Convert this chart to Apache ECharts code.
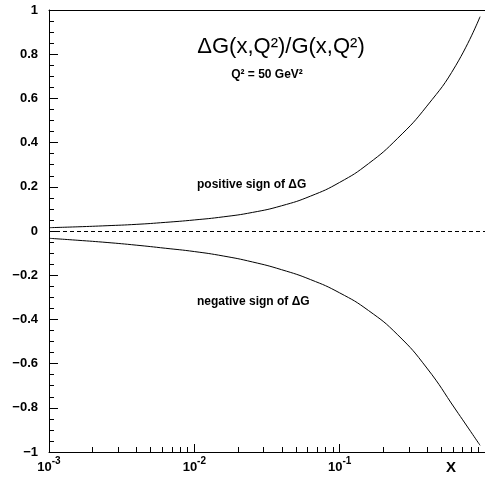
<!DOCTYPE html>
<html><head><meta charset="utf-8">
<script src="https://cdn.jsdelivr.net/npm/echarts@6/dist/echarts.min.js"></script>
<style>html,body{margin:0;padding:0;background:#fff}#c{width:485px;height:479px}</style>
</head><body><div id="c"></div>
<script>
// ---- data ----
const xValues = [0.001, 0.00158, 0.00251, 0.00398, 0.00631, 0.01, 0.0158, 0.0251, 0.0398, 0.0631, 0.1, 0.158, 0.251, 0.398, 0.631, 0.925];
const positiveRatio = [0.015, 0.019, 0.024, 0.030, 0.039, 0.050, 0.064, 0.084, 0.114, 0.158, 0.22, 0.305, 0.42, 0.565, 0.75, 0.97];
const negativeRatio = [-0.033, -0.042, -0.052, -0.064, -0.078, -0.093, -0.113, -0.14, -0.175, -0.22, -0.28, -0.36, -0.47, -0.62, -0.81, -0.97];
const xTickExponents = ['-3', '-2', '-1'];
const yTickLabels = ['−1', '−0.8', '−0.6', '−0.4', '−0.2', '0', '0.2', '0.4', '0.6', '0.8', '1'];
const minorMultipliers = [2, 3, 4, 5, 6, 7, 8, 9];
const minorDecades = [-3, -2, -1];

const FONT = '"Liberation Sans", Arial, sans-serif';
const pts = (ys) => xValues.map((x, i) => [x, ys[i]]);
const minorTickPos = [];
minorDecades.forEach(d => minorMultipliers.forEach(m => minorTickPos.push(d + Math.log10(m))));

const chart = echarts.init(document.getElementById('c'), null, {renderer: 'canvas'});
chart.setOption({
  animation: false,
  backgroundColor: '#fff',
  grid: {left: 49, right: -5, top: 10, bottom: 27},
  xAxis: [
    {
      type: 'log', logBase: 10, min: 0.001, max: 1, position: 'bottom',
      axisLine: {show: true, onZero: false, lineStyle: {color: '#000', width: 1}},
      axisTick: {show: true, inside: true, length: 8, lineStyle: {color: '#000', width: 1}},
      splitLine: {show: false},
      axisLabel: {
        show: true, margin: 4, showMaxLabel: false,
        formatter: function (v) {
          const e = Math.round(Math.log10(v));
          const idx = e + 3;
          if (idx < 0 || idx >= xTickExponents.length) return '';
          return '{b|10}{s|' + xTickExponents[idx] + '}';
        },
        rich: {
          b: {fontFamily: FONT, fontWeight: 'bold', fontSize: 13, color: '#000', verticalAlign: 'bottom', lineHeight: 18},
          s: {fontFamily: FONT, fontWeight: 'bold', fontSize: 10, color: '#000', verticalAlign: 'top', lineHeight: 18}
        }
      }
    },
    {
      type: 'log', logBase: 10, min: 0.001, max: 1, position: 'top',
      axisLine: {show: true, onZero: false, lineStyle: {color: '#000', width: 1}},
      axisTick: {show: false}, axisLabel: {show: false}, splitLine: {show: false}
    },
    {
      type: 'value', min: -3, max: 0, position: 'bottom',
      axisLine: {show: false, onZero: false}, axisLabel: {show: false}, splitLine: {show: false},
      axisTick: {show: true, inside: true, length: 5, customValues: minorTickPos, lineStyle: {color: '#000', width: 1}}
    }
  ],
  yAxis: [{
    type: 'value', min: -1, max: 1, interval: 0.2, position: 'left',
    axisLine: {show: true, onZero: false, lineStyle: {color: '#000', width: 1}},
    axisTick: {show: true, inside: true, length: 9, lineStyle: {color: '#000', width: 1}},
    minorTick: {show: true, splitNumber: 4, length: 5, lineStyle: {color: '#000', width: 1}},
    splitLine: {show: false},
    axisLabel: {
      margin: 11, fontFamily: FONT, fontWeight: 'bold', fontSize: 13, color: '#000',
      formatter: function (v) { return yTickLabels[Math.round((v + 1) / 0.2)]; }
    }
  }],
  series: [
    {
      type: 'line', xAxisIndex: 0, yAxisIndex: 0, data: pts(positiveRatio),
      smooth: 0.5, showSymbol: false, lineStyle: {color: '#000', width: 1},
      markLine: {
        silent: true, symbol: 'none', label: {show: false},
        lineStyle: {color: '#000', width: 1, type: [4, 3]},
        data: [{yAxis: 0}]
      }
    },
    {
      type: 'line', xAxisIndex: 0, yAxisIndex: 0, data: pts(negativeRatio),
      smooth: 0.5, showSymbol: false, lineStyle: {color: '#000', width: 1}
    }
  ],
  graphic: [
    {type: 'text', x: 281, y: 47, style: {text: 'ΔG(x,Q²)/G(x,Q²)', font: '22px ' + FONT, fill: '#000', align: 'center', verticalAlign: 'middle'}},
    {type: 'text', x: 267, y: 75, style: {text: 'Q² = 50 GeV²', font: 'bold 12px ' + FONT, fill: '#000', align: 'center', verticalAlign: 'middle'}},
    {type: 'text', x: 197, y: 185, style: {text: 'positive sign of ΔG', font: 'bold 12px ' + FONT, fill: '#000', align: 'left', verticalAlign: 'middle'}},
    {type: 'text', x: 197, y: 302, style: {text: 'negative sign of ΔG', font: 'bold 12px ' + FONT, fill: '#000', align: 'left', verticalAlign: 'middle'}},
    {type: 'text', x: 451, y: 468, style: {text: 'X', font: 'bold 15px ' + FONT, fill: '#000', align: 'center', verticalAlign: 'middle'}}
  ]
});
</script>
</body></html>
